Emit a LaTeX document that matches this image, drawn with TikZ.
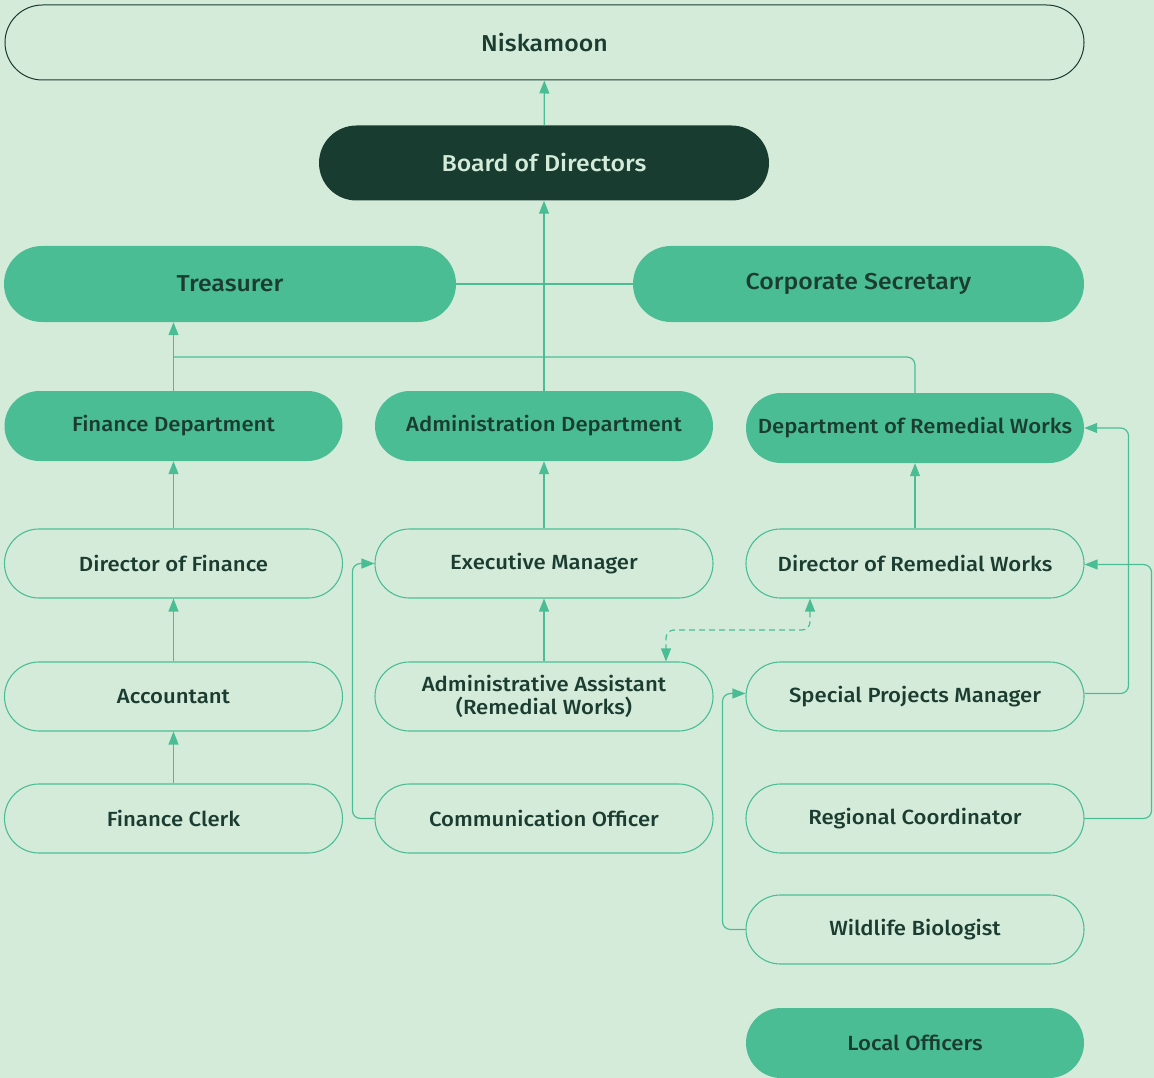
\documentclass[tikz,border=0pt]{standalone}
\usepackage{fontspec}
\setmainfont{Fira Sans}[UprightFont=* Medium, FakeStretch=1.08]
\usetikzlibrary{arrows.meta}
\definecolor{bg}{HTML}{D5EBDA}
\definecolor{grn}{HTML}{4ABD95}
\definecolor{dark}{HTML}{183C30}
\definecolor{txt}{HTML}{1B3D31}
\begin{document}
\begin{tikzpicture}[x=1pt,y=-1pt,
  box/.style={rectangle, rounded corners=#1, inner sep=0pt, align=center, text=txt, font=\fontsize{20.5}{23}\selectfont},
  outl/.style={box=34.5pt, draw=grn, line width=1.1pt, minimum width=338pt, minimum height=69pt},
  filled/.style={box=35pt, fill=grn, minimum width=338pt, minimum height=70pt},
  big/.style={box=37.5pt, minimum height=75pt, font=\fontsize{23}{26}\selectfont},
  conn/.style={draw=grn, line width=1.2pt, rounded corners=8pt},
  tip/.style={-{Triangle[length=13pt,width=10pt]}},
]
\fill[bg] (0,0) rectangle (1154,1078);
\useasboundingbox (0,0) rectangle (1154,1078);

\node[big, draw=dark, line width=1pt, minimum width=1079pt] (nis) at (544.5,42.5) {Niskamoon};
\node[big, fill=dark, text=bg, minimum width=450pt] (bod) at (544,163) {Board of Directors};
\node[big, fill=grn, minimum width=452pt, minimum height=76pt, rounded corners=38pt] (tre) at (230,284) {Treasurer};
\node[big, fill=grn, minimum width=451pt, minimum height=76pt, rounded corners=38pt] (cs) at (858.5,284) {Corporate Secretary};

\node[filled] (fd) at (173.5,426) {Finance Department};
\node[filled] (ad) at (544,426) {Administration Department};
\node[filled] (drw) at (915,428) {Department of Remedial Works};

\node[outl] (dof) at (173.5,563.5) {Director of Finance};
\node[outl] (em) at (544,563.5) {Executive Manager};
\node[outl] (dorw) at (915,563.5) {Director of Remedial Works};

\node[outl] (acc) at (173.5,696.5) {Accountant};
\node[outl] (aa) at (544,696.5) {Administrative Assistant\\(Remedial Works)};
\node[outl] (spm) at (915,696.5) {Special Projects Manager};

\node[outl] (fc) at (173.5,818.5) {Finance Clerk};
\node[outl] (co) at (544,818.5) {Communication Officer};
\node[outl] (rc) at (915,818.5) {Regional Coordinator};

\node[outl] (wb) at (915,929.5) {Wildlife Biologist};
\node[filled] (lo) at (915,1043) {Local Officers};

% vertical hierarchy
\draw[conn, tip] (bod) -- (nis);
\draw[conn, tip] (ad) -- (bod);
\draw[conn] (tre) -- (cs);
\draw[conn, tip] (fd.north) -- (fd.north |- tre.south);
\coordinate (jn) at (173.5,357);
\draw[conn] (drw.north) |- (jn);
\draw[conn, tip] (dof) -- (fd);
\draw[conn, tip] (em) -- (ad);
\draw[conn, tip] (dorw) -- (drw);
\draw[conn, tip] (acc) -- (dof);
\draw[conn, tip] (aa) -- (em);
\draw[conn, tip] (fc) -- (acc);

% dashed link
\coordinate (da) at ([xshift=-105pt]dorw.south);
\coordinate (db) at ([xshift=122pt]aa.north);
\draw[conn, dash pattern=on 6pt off 4pt, {Triangle[length=13pt,width=10pt]}-{Triangle[length=13pt,width=10pt]}] (da) -- (810,630) -| (db);

% side elbows
\draw[conn, tip] (co.west) -- ++(-22,0) |- (em.west);
\draw[conn, tip] ([yshift=3pt]spm.east) -- ++(44,0) |- (drw.east);
\draw[conn, tip] (rc.east) -- ++(67,0) |- ([yshift=-1pt]dorw.east);
\draw[conn, tip] (wb.west) -- ++(-23,0) |- ([yshift=3pt]spm.west);
\end{tikzpicture}
\end{document}
